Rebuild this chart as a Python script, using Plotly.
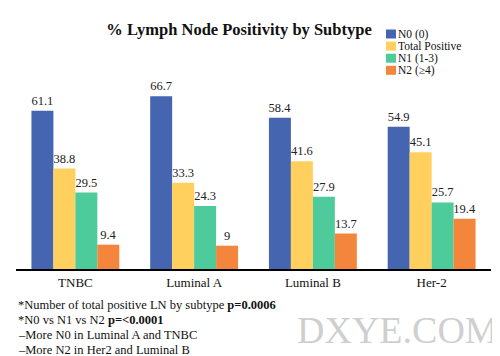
import plotly.graph_objects as go

categories = ["TNBC", "Luminal A", "Luminal B", "Her-2"]
series_names = ["N0 (0)", "Total Positive", "N1 (1-3)", "N2 (\u22654)"]
n0 = [61.1, 66.7, 58.4, 54.9]
total_pos = [38.8, 33.3, 41.6, 45.1]
n1 = [29.5, 24.3, 27.9, 25.7]
n2 = [9.4, 9, 13.7, 19.4]
colors = ["#4565B0", "#FFD05E", "#4ECB9A", "#F4853C"]
title = "% Lymph Node Positivity by Subtype"
notes = [
    "*Number of total positive LN by subtype <b>p=0.0006</b>",
    "*N0 vs N1 vs N2 <b>p=<0.0001</b>",
    "\u2013More N0 in Luminal A and TNBC",
    "\u2013More N2 in Her2 and Luminal B",
]
watermark = "DXYE.COM"

FONT = "Liberation Serif"

fig = go.Figure()
for name, vals, col in zip(series_names, [n0, total_pos, n1, n2], colors):
    fig.add_trace(go.Bar(
        x=categories, y=vals, name=name, marker=dict(color=col, line=dict(width=0)),
        text=[str(v) for v in vals], textposition="outside", constraintext="none",
        textfont=dict(family=FONT, size=12.5, color="#222"),
        cliponaxis=False, showlegend=False,
    ))

fig.update_layout(
    width=500, height=356,
    margin=dict(l=8, r=17, t=60, b=95),
    paper_bgcolor="white", plot_bgcolor="white",
    barmode="group", bargap=0.26, bargroupgap=0,
    font=dict(family=FONT, size=12, color="#111"),
    title=dict(text="<b>" + title + "</b>", x=0.462, xanchor="center", y=0.94, yanchor="middle",
               font=dict(family=FONT, size=16.5, color="#111")),
    xaxis=dict(showline=True, linecolor="black", linewidth=2, ticks="", showgrid=False,
               tickfont=dict(family=FONT, size=13, color="#111")),
    yaxis=dict(visible=False, range=[0, 77.6]),
)

# compact legend (tighter than plotly's built-in legend allows)
for i, (name, col) in enumerate(zip(series_names, colors)):
    yc = 26 + i * 12.1
    fig.add_shape(type="rect", xref="paper", yref="paper",
                  x0=(378 - 8) / 475, x1=(388 - 8) / 475,
                  y0=(261 - yc - 4.5) / 201, y1=(261 - yc + 4.5) / 201,
                  fillcolor=col, line=dict(width=0))
    fig.add_annotation(text=name, xref="paper", yref="paper", x=(388 - 8) / 475,
                       y=(261 - yc) / 201, xanchor="left", yanchor="middle",
                       showarrow=False, font=dict(family=FONT, size=11.5, color="#111"))

for i, line in enumerate(notes):
    fig.add_annotation(text=line, xref="paper", yref="paper", x=0, y=-(297 - 261 + i * 15) / 201,
                       xanchor="left", yanchor="middle", showarrow=False,
                       font=dict(family=FONT, size=12.5, color="#111"))

fig.add_annotation(text=watermark, xref="paper", yref="paper", x=(493 - 8) / 475, y=-(322 - 261) / 201,
                   xanchor="right", yanchor="middle", showarrow=False,
                   font=dict(family=FONT, size=38, color="#cfcfcf"))

fig.write_html("out.html")
